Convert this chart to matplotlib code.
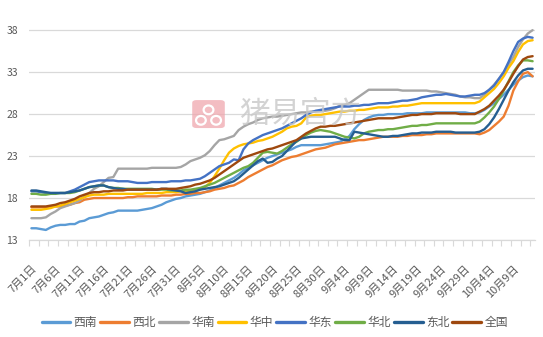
import matplotlib
matplotlib.use("Agg")
import matplotlib.pyplot as plt
import numpy as np
import pandas as pd
from matplotlib.patches import FancyBboxPatch, Ellipse

plt.rcParams['font.family'] = ['Noto Sans CJK SC', 'DejaVu Sans']

# 7月1日 .. 10月13日
dates = pd.date_range("2019-07-01", "2019-10-13", freq="D")
date_labels = [f"{d.month}月{d.day}日" for d in dates]

xinan = [14.4, 14.4, 14.3, 14.2, 14.5, 14.7, 14.8, 14.8, 14.9, 14.9,
         15.2, 15.3, 15.6, 15.7, 15.8, 16.0, 16.2, 16.3, 16.5, 16.5,
         16.5, 16.5, 16.5, 16.6, 16.7, 16.8, 17.0, 17.2, 17.5, 17.7,
         17.9, 18.0, 18.2, 18.3, 18.4, 18.5, 18.7, 18.9, 19.2, 19.5,
         19.8, 20.1, 20.4, 20.8, 21.3, 21.6, 21.9, 22.2, 22.5, 22.8,
         23.0, 23.2, 23.4, 23.6, 23.8, 24.1, 24.3, 24.3, 24.3, 24.3,
         24.3, 24.4, 24.5, 24.6, 24.7, 25.0, 25.4, 26.2, 26.8, 27.3,
         27.6, 27.8, 27.9, 27.9, 28.0, 28.0, 28.0, 28.0, 28.1, 28.1,
         28.1, 28.1, 28.2, 28.2, 28.2, 28.2, 28.2, 28.2, 28.2, 28.2,
         28.2, 28.1, 28.1, 28.2, 28.5, 28.9, 29.3, 29.8, 30.3, 30.9,
         31.5, 32.0, 32.4, 32.6, 32.5]
xibei = [16.9, 16.9, 16.9, 16.9, 17.0, 17.0, 17.0, 17.1, 17.2, 17.4,
         17.5, 17.8, 17.9, 18.0, 18.0, 18.0, 18.0, 18.0, 18.0, 18.0,
         18.1, 18.1, 18.2, 18.2, 18.2, 18.2, 18.2, 18.3, 18.3, 18.3,
         18.4, 18.4, 18.5, 18.5, 18.6, 18.6, 18.7, 18.8, 19.0, 19.1,
         19.2, 19.4, 19.5, 19.8, 20.1, 20.5, 20.8, 21.1, 21.4, 21.7,
         21.9, 22.2, 22.5, 22.7, 22.9, 23.0, 23.2, 23.4, 23.6, 23.8,
         23.9, 24.0, 24.2, 24.4, 24.5, 24.6, 24.7, 24.8, 24.9, 24.9,
         25.0, 25.1, 25.2, 25.3, 25.3, 25.3, 25.3, 25.4, 25.4, 25.5,
         25.5, 25.5, 25.6, 25.6, 25.7, 25.7, 25.7, 25.7, 25.7, 25.7,
         25.7, 25.7, 25.7, 25.6, 25.8, 26.1, 26.6, 27.1, 27.7, 29.0,
         30.8, 31.9, 32.8, 33.0, 32.5]
huanan = [15.6, 15.6, 15.6, 15.7, 16.1, 16.4, 16.8, 17.0, 17.2, 17.4,
          17.7, 18.2, 18.6, 19.1, 19.4, 19.9, 20.4, 20.5, 21.5, 21.5,
          21.5, 21.5, 21.5, 21.5, 21.5, 21.6, 21.6, 21.6, 21.6, 21.6,
          21.6, 21.7, 22.0, 22.4, 22.6, 22.8, 23.1, 23.6, 24.3, 24.9,
          25.0, 25.2, 25.4, 26.1, 26.5, 26.8, 27.0, 27.3, 27.5, 27.6,
          27.7, 27.7, 27.8, 27.9, 28.0, 28.1, 28.2, 28.2, 28.3, 28.3,
          28.4, 28.4, 28.5, 28.7, 29.0, 29.1, 29.3, 29.7, 30.1, 30.5,
          30.9, 30.9, 30.9, 30.9, 30.9, 30.9, 30.9, 30.8, 30.8, 30.8,
          30.8, 30.8, 30.8, 30.7, 30.7, 30.6, 30.5, 30.4, 30.3, 30.1,
          30.0, 30.0, 29.9, 29.9, 30.3, 30.9, 31.5, 32.2, 33.0, 33.9,
          34.8, 36.0, 36.9, 37.6, 38.0]
huazhong = [16.6, 16.6, 16.6, 16.7, 16.8, 17.0, 17.1, 17.3, 17.5, 17.7,
            17.9, 18.1, 18.3, 18.4, 18.4, 18.4, 18.5, 18.5, 18.5, 18.5,
            18.5, 18.5, 18.5, 18.5, 18.6, 18.6, 18.6, 18.6, 18.7, 18.7,
            18.7, 18.8, 18.8, 18.9, 18.9, 19.0, 19.3, 19.8, 20.6, 21.5,
            22.5, 23.4, 23.9, 24.2, 24.4, 24.5, 24.6, 24.8, 24.9, 25.1,
            25.3, 25.6, 25.9, 26.3, 26.5, 26.6, 26.9, 27.6, 27.8, 27.9,
            27.9, 28.0, 28.1, 28.2, 28.3, 28.3, 28.4, 28.4, 28.5, 28.5,
            28.6, 28.7, 28.8, 28.8, 28.8, 28.9, 28.9, 29.0, 29.0, 29.1,
            29.2, 29.3, 29.3, 29.3, 29.3, 29.3, 29.3, 29.3, 29.3, 29.3,
            29.3, 29.3, 29.3, 29.5, 30.0, 30.5, 31.0, 31.7, 32.5, 33.5,
            34.3, 35.4, 36.3, 36.7, 36.8]
huadong = [18.8, 18.8, 18.7, 18.6, 18.6, 18.6, 18.6, 18.6, 18.8, 19.0,
           19.3, 19.6, 19.9, 20.0, 20.1, 20.1, 20.1, 20.1, 20.0, 20.0,
           20.0, 19.9, 19.8, 19.8, 19.8, 19.9, 19.9, 19.9, 19.9, 20.0,
           20.0, 20.0, 20.1, 20.1, 20.2, 20.3, 20.6, 21.0, 21.4, 21.8,
           22.0, 22.2, 22.6, 22.5, 23.8, 24.5, 24.9, 25.2, 25.5, 25.7,
           25.9, 26.1, 26.3, 26.6, 26.9, 27.2, 27.5, 27.9, 28.2, 28.4,
           28.5, 28.6, 28.7, 28.8, 28.9, 28.9, 28.9, 29.0, 29.0, 29.1,
           29.1, 29.2, 29.3, 29.3, 29.3, 29.4, 29.5, 29.6, 29.6, 29.7,
           29.8, 30.0, 30.1, 30.2, 30.3, 30.3, 30.4, 30.3, 30.2, 30.1,
           30.1, 30.2, 30.3, 30.3, 30.5, 30.9, 31.4, 32.2, 33.0, 34.2,
           35.5, 36.6, 37.0, 37.2, 37.1]
huabei = [18.5, 18.5, 18.4, 18.4, 18.5, 18.5, 18.6, 18.6, 18.6, 18.7,
          18.9, 19.1, 19.3, 19.4, 19.5, 19.5, 19.3, 19.2, 19.2, 19.1,
          19.1, 19.1, 19.1, 19.1, 19.1, 19.1, 19.0, 19.0, 19.0, 18.9,
          18.9, 18.9, 19.0, 19.0, 19.1, 19.2, 19.4, 19.6, 19.8, 20.1,
          20.4, 20.7, 21.0, 21.3, 21.6, 21.8, 22.2, 22.8, 23.4, 23.5,
          23.4, 23.3, 23.6, 24.0, 24.4, 24.7, 25.1, 25.5, 25.8, 26.0,
          26.1, 26.0, 25.9, 25.7, 25.5, 25.3, 25.2, 25.1, 25.3, 25.7,
          25.9, 26.0, 26.1, 26.1, 26.2, 26.2, 26.3, 26.4, 26.5, 26.6,
          26.6, 26.7, 26.7, 26.8, 26.9, 26.9, 26.9, 26.9, 26.9, 26.9,
          26.9, 26.9, 26.9, 27.1, 27.6, 28.2, 28.9, 29.8, 30.8, 31.9,
          33.0, 33.8, 34.4, 34.4, 34.3]
dongbei = [18.9, 18.9, 18.8, 18.7, 18.6, 18.6, 18.6, 18.6, 18.7, 18.8,
           18.9, 19.1, 19.3, 19.4, 19.5, 19.5, 19.3, 19.2, 19.1, 19.1,
           19.0, 19.0, 19.0, 19.0, 19.0, 19.0, 19.0, 19.1, 19.1, 19.0,
           18.9, 18.8, 18.6, 18.7, 18.8, 19.0, 19.1, 19.2, 19.3, 19.4,
           19.6, 19.8, 20.0, 20.4, 20.9, 21.4, 21.9, 22.4, 22.7, 22.2,
           22.3, 22.7, 23.0, 23.6, 24.2, 24.8, 25.1, 25.2, 25.3, 25.3,
           25.3, 25.3, 25.3, 25.3, 25.1, 24.9, 24.9, 25.9, 25.8, 25.7,
           25.6, 25.5, 25.4, 25.3, 25.3, 25.4, 25.4, 25.5, 25.6, 25.7,
           25.7, 25.8, 25.8, 25.8, 25.9, 25.9, 25.9, 25.9, 25.8, 25.8,
           25.8, 25.8, 25.8, 25.9, 26.2, 26.8, 27.6, 28.6, 29.7, 30.8,
           31.8, 32.6, 33.2, 33.4, 33.4]
quanguo = [17.0, 17.0, 17.0, 17.0, 17.1, 17.2, 17.4, 17.5, 17.7, 17.9,
           18.2, 18.4, 18.6, 18.7, 18.7, 18.8, 18.8, 18.9, 18.9, 18.9,
           19.0, 19.0, 19.0, 19.0, 19.0, 19.0, 19.0, 19.1, 19.1, 19.1,
           19.1, 19.2, 19.3, 19.4, 19.6, 19.7, 19.9, 20.1, 20.4, 20.8,
           21.2, 21.6, 22.0, 22.4, 22.8, 23.0, 23.2, 23.4, 23.6, 23.8,
           23.9, 24.1, 24.3, 24.5, 24.7, 24.9, 25.3, 25.7, 26.0, 26.3,
           26.5, 26.5, 26.6, 26.6, 26.7, 26.8, 26.9, 27.0, 27.1, 27.2,
           27.3, 27.4, 27.5, 27.5, 27.5, 27.5, 27.6, 27.7, 27.8, 27.9,
           27.9, 28.0, 28.0, 28.0, 28.1, 28.1, 28.1, 28.1, 28.1, 28.0,
           28.0, 28.0, 28.0, 28.3, 28.6, 29.0, 29.6, 30.2, 30.9, 31.8,
           32.8, 33.7, 34.5, 34.8, 34.9]

names = ["西南", "西北", "华南", "华中", "华东", "华北", "东北", "全国"]
colors = ["#5B9BD5", "#ED7D31", "#A5A5A5", "#FFC000",
          "#4472C4", "#70AD47", "#255E91", "#9E480E"]
series = [xinan, xibei, huanan, huazhong, huadong, huabei, dongbei, quanguo]

fig = plt.figure(figsize=(5.43, 3.37), dpi=100)
ax = fig.add_axes([0.0534, 0.2878, 0.9319, 0.6825])

# watermark
fig.patches.append(FancyBboxPatch((0.354, 0.620), 0.060, 0.083,
                                  boxstyle="round,pad=0,rounding_size=0.008",
                                  transform=fig.transFigure, fc="#EFA7AE",
                                  ec="none", alpha=0.75, zorder=0))
for cx, cy in [(0.384, 0.674), (0.370, 0.643), (0.398, 0.643)]:
    fig.patches.append(Ellipse((cx, cy), 0.018, 0.026, transform=fig.transFigure,
                               fc="none", ec="white", lw=1.6, zorder=0.5))
fig.text(0.44, 0.66, "猪易官方", fontsize=22, color="#C8C8C8", alpha=0.8,
         va="center", ha="left", zorder=0)
ax.set_facecolor("none")

x = np.arange(len(dates))
for vals, name, c in zip(series, names, colors):
    ax.plot(x, vals, color=c, lw=1.7, label=name, solid_capstyle="round")

ax.set_xlim(-0.5, len(dates) - 0.5)
ax.set_ylim(13, 40.4)
ax.set_yticks([13, 18, 23, 28, 33, 38])
ax.yaxis.grid(True, color="#D9D9D9", lw=0.9)
ax.set_axisbelow(True)

for s in ["top", "right", "left"]:
    ax.spines[s].set_visible(False)
ax.spines["bottom"].set_color("#D9D9D9")
ax.spines["bottom"].set_linewidth(0.9)

ax.set_xticks(x[::5])
ax.set_xticklabels(date_labels[::5], rotation=45, ha="right",
                   rotation_mode="anchor", fontsize=8, color="#595959")
ax.set_xticks(np.arange(-0.5, len(dates), 2), minor=True)
ax.tick_params(axis="x", which="major", length=0, pad=17)
ax.tick_params(axis="x", which="minor", length=4, color="#D9D9D9", width=0.8)
ax.tick_params(axis="y", length=0, pad=8, labelsize=7.5, labelcolor="#595959")

leg = fig.legend(loc="center", bbox_to_anchor=(0.506, 0.043), ncol=8,
                 frameon=False, fontsize=8.5, handlelength=2.45,
                 handletextpad=0.28, columnspacing=0.25)
for t in leg.get_texts():
    t.set_color("#595959")
for h in leg.get_lines():
    h.set_linewidth(2.4)

fig.savefig("out.png", dpi=100)
